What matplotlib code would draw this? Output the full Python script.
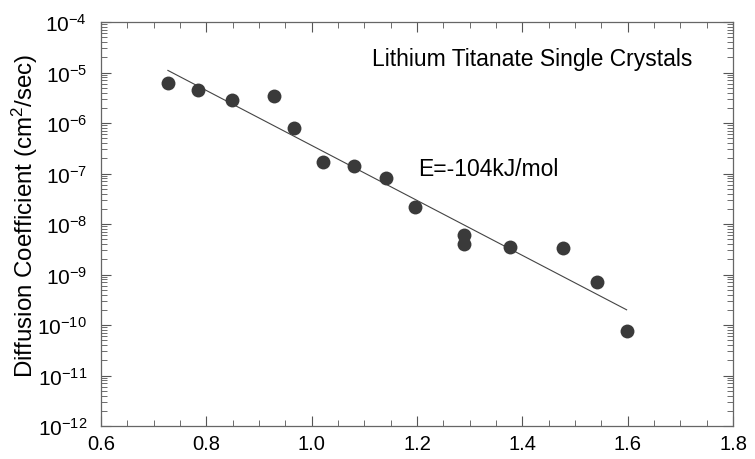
import matplotlib
matplotlib.use("Agg")
import matplotlib.pyplot as plt
from matplotlib.ticker import MultipleLocator, LogLocator, NullFormatter, FormatStrFormatter

plt.rcParams['font.family'] = ['Liberation Sans', 'DejaVu Sans']
plt.rcParams['mathtext.fontset'] = 'custom'
plt.rcParams['mathtext.rm'] = 'Liberation Sans'
plt.rcParams['mathtext.it'] = 'Liberation Sans'

# measured points (x axis is unlabelled in the original)
x_vals = [0.727, 0.784, 0.849, 0.928, 0.966, 1.021, 1.080, 1.141, 1.196,
          1.290, 1.290, 1.377, 1.477, 1.541, 1.598]
d_vals = [6.2e-6, 4.5e-6, 2.9e-6, 3.4e-6, 8.0e-7, 1.7e-7, 1.4e-7, 8.1e-8, 2.2e-8,
          6.0e-9, 4.0e-9, 3.5e-9, 3.4e-9, 7.1e-10, 7.6e-11]

# Arrhenius fit line endpoints
fit_x = [0.727, 1.598]
fit_y = [1.1e-5, 2.0e-10]

fig = plt.figure(figsize=(7.55, 4.6), dpi=100)
ax = fig.add_axes([101 / 755, 1 - 427 / 460, 632 / 755, 404 / 460])

ax.plot(fit_x, fit_y, color='#444444', linewidth=0.8)
ax.plot(x_vals, d_vals, 'o', color='#3a3a3a', markersize=10, markeredgewidth=0)

ax.set_yscale('log')
ax.set_xlim(0.6, 1.8)
ax.set_ylim(1e-12, 1e-4)

ax.xaxis.set_major_locator(MultipleLocator(0.2))
ax.xaxis.set_minor_locator(MultipleLocator(0.05))
ax.xaxis.set_major_formatter(FormatStrFormatter('%.1f'))
ax.yaxis.set_major_locator(LogLocator(base=10, numticks=20))
ax.yaxis.set_minor_locator(LogLocator(base=10, subs=range(2, 10), numticks=20))
ax.yaxis.set_minor_formatter(NullFormatter())

ax.tick_params(which='both', direction='in', top=True, right=True, colors='#555555',
               labelcolor='black', labelsize=15)
ax.tick_params(which='major', length=7, width=0.8)
ax.tick_params(which='minor', length=4, width=0.6)
ax.tick_params(axis='x', pad=6, labelsize=14.5)
ax.tick_params(axis='y', pad=10)
for s in ax.spines.values():
    s.set_color('#666666')
    s.set_linewidth(0.9)

ax.set_ylabel('Diffusion Coefficient (cm$^2$/sec)', fontsize=17.4)
ax.yaxis.set_label_coords(-0.097, 0.522)

ax.text(1.115, 10**-4.73, 'Lithium Titanate Single Crystals', fontsize=16.5, va='center')
ax.text(1.202, 10**-6.9, 'E=-104kJ/mol', fontsize=16.5, va='center')

fig.savefig('out.png', dpi=100)
